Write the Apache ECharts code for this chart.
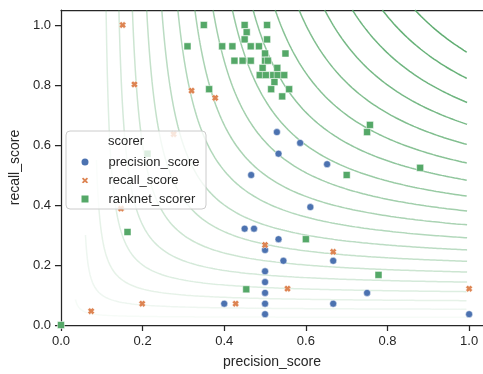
<!DOCTYPE html>
<html>
<head>
<meta charset="utf-8">
<script src="https://cdn.jsdelivr.net/npm/echarts@6/dist/echarts.min.js"></script>
<style>
  html, body { margin: 0; padding: 0; background: #fff; }
  #container { width: 483px; height: 374px; }
</style>
</head>
<body>
<div id="container"></div>
<script>
// points
const precisionP = [0.529, 0.586, 0.533, 0.652, 0.466, 0.611, 0.45, 0.473, 0.533, 0.5, 0.545, 0.667, 0.5, 0.5, 0.5, 0.75, 0.5, 0.667, 0.4, 0.5, 1.0];
const precisionR = [0.643, 0.607, 0.571, 0.536, 0.5, 0.393, 0.321, 0.321, 0.286, 0.25, 0.214, 0.214, 0.179, 0.143, 0.107, 0.107, 0.071, 0.071, 0.071, 0.036, 0.036];

const recallP = [0.151, 0.18, 0.32, 0.378, 0.276, 0.147, 0.5, 0.667, 0.555, 1.0, 0.428, 0.199, 0.074];
const recallR = [1.0, 0.802, 0.781, 0.757, 0.636, 0.388, 0.267, 0.244, 0.121, 0.121, 0.071, 0.071, 0.046];

const ranknetP = [0.35, 0.45, 0.505, 0.455, 0.45, 0.505, 0.31, 0.395, 0.42, 0.465, 0.485, 0.5, 0.55,
  0.425, 0.445, 0.465, 0.5, 0.507, 0.494, 0.53, 0.487, 0.502, 0.52, 0.531, 0.547, 0.523,
  0.363, 0.515, 0.559, 0.542, 0.757, 0.75, 0.88, 0.7, 0.6, 0.778, 0.454, 0.163, 0.212, 0.0];
const ranknetR = [1.0, 1.0, 1.0, 0.976, 0.952, 0.952, 0.929, 0.929, 0.929, 0.929, 0.929, 0.905, 0.905,
  0.881, 0.881, 0.881, 0.881, 0.881, 0.857, 0.857, 0.833, 0.833, 0.833, 0.833, 0.833, 0.81,
  0.786, 0.786, 0.786, 0.762, 0.667, 0.643, 0.524, 0.5, 0.286, 0.167, 0.119, 0.31, 0.571, 0.0];

// f1 iso lines in the background
const f1Levels = [0.05, 0.1, 0.15, 0.2, 0.25, 0.3, 0.35, 0.4, 0.45, 0.5, 0.55, 0.6, 0.65, 0.7, 0.75, 0.8, 0.85, 0.9, 0.95];
const f1TopR = [0.085, 0.3, 0.55]; // the lowest lines stop early in the original

const tickValues = [0, 0.2, 0.4, 0.6, 0.8, 1.0];

const xMax = 1.034;
const yMax = 1.05;
const font = 'Liberation Sans';

function zip(a, b) {
  return a.map(function (v, i) { return [v, b[i]]; });
}

function f1Curve(f, rTop) {
  const pts = [];
  const rHi = Math.min(yMax, rTop);
  const pLo = f * rHi / (2 * rHi - f);
  const pHi = 0.995;
  const n = 600;
  for (let i = 0; i <= n; i++) {
    const p = pLo + (pHi - pLo) * i / n;
    const r = f * p / (2 * p - f);
    pts.push([p, r]);
  }
  return pts;
}

const contourSeries = f1Levels.map(function (f, i) {
  return {
    type: 'line',
    data: f1Curve(f, f1TopR[i] !== undefined ? f1TopR[i] : yMax),
    showSymbol: false,
    silent: true,
    z: 1,
    lineStyle: { color: 'rgba(85,168,104,' + f + ')', width: 1.5 }
  };
});

const xMark = 'path://M0,3L3,0L5,2L7,0L10,3L8,5L10,7L7,10L5,8L3,10L0,7L2,5Z';

const chart = echarts.init(document.getElementById('container'));

chart.setOption({
  animation: false,
  backgroundColor: '#fff',
  grid: { left: 58, top: 10, right: 0, bottom: 44 },
  xAxis: [{
    type: 'value', min: 0, max: xMax,
    name: 'precision_score', nameLocation: 'middle', nameGap: 30,
    nameTextStyle: { fontFamily: font, fontSize: 14, color: '#262626' },
    axisLine: { lineStyle: { color: '#262626', width: 1.25 } },
    axisTick: { length: 6, lineStyle: { color: '#262626', width: 1.25 }, customValues: tickValues },
    axisLabel: { fontFamily: font, fontSize: 13, color: '#262626', margin: 10, customValues: tickValues,
      formatter: function (v) { return v.toFixed(1); } },
    splitLine: { show: false }
  }, {
    type: 'value', min: 0, max: xMax, position: 'top',
    axisLine: { show: true, lineStyle: { color: '#262626', width: 1.25 } },
    axisTick: { show: false }, axisLabel: { show: false }, splitLine: { show: false }
  }],
  yAxis: {
    type: 'value', min: 0, max: yMax,
    name: 'recall_score', nameLocation: 'middle', nameGap: 32,
    nameTextStyle: { fontFamily: font, fontSize: 14, color: '#262626' },
    axisLine: { show: true, lineStyle: { color: '#262626', width: 1.25 } },
    axisTick: { show: true, length: 6, lineStyle: { color: '#262626', width: 1.25 }, customValues: tickValues },
    axisLabel: { fontFamily: font, fontSize: 13, color: '#262626', margin: 10, customValues: tickValues,
      formatter: function (v) { return v.toFixed(1); } },
    splitLine: { show: false }
  },
  legend: {
    data: ['precision_score', 'recall_score', 'ranknet_scorer'],
    orient: 'vertical', left: 79.5, top: 155.5, padding: 0,
    itemWidth: 9, itemHeight: 9, itemGap: 5.5,
    textStyle: { fontFamily: font, fontSize: 13, color: '#262626', padding: [0, 0, 0, 14] },
    z: 110
  },
  graphic: [{
    type: 'rect', z: 100,
    shape: { x: 66, y: 131, width: 140, height: 78, r: 4 },
    style: { fill: 'rgba(255,255,255,0.8)', stroke: '#cccccc', lineWidth: 1 }
  }, {
    type: 'text', z: 101, left: 108, top: 135,
    style: { text: 'scorer', font: '13px "Liberation Sans"', fill: '#262626' }
  }],
  series: contourSeries.concat([{
    name: 'precision_score', type: 'scatter', data: zip(precisionP, precisionR),
    symbol: 'circle', symbolSize: 7, z: 5,
    itemStyle: { color: '#4c72b0', borderColor: '#fff', borderWidth: 0.5, opacity: 1 }
  }, {
    name: 'recall_score', type: 'scatter', data: zip(recallP, recallR),
    symbol: xMark, symbolSize: 7, z: 5,
    itemStyle: { color: '#dd8452', borderColor: '#fff', borderWidth: 0.5, opacity: 1 }
  }, {
    name: 'ranknet_scorer', type: 'scatter', data: zip(ranknetP, ranknetR),
    symbol: 'rect', symbolSize: 7, z: 5,
    itemStyle: { color: '#55a868', borderColor: '#fff', borderWidth: 0.5, opacity: 1 }
  }])
});
</script>
</body>
</html>
